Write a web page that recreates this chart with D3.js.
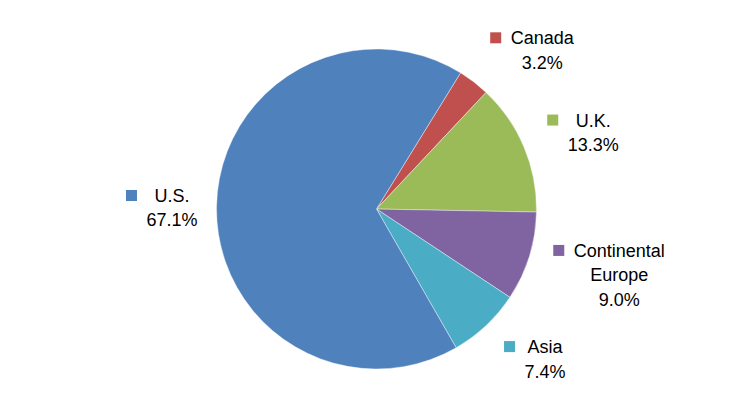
<!DOCTYPE html>
<html>
<head>
<meta charset="utf-8">
<script src="https://cdn.jsdelivr.net/npm/d3@7"></script>
<style>
  body { margin: 0; background: #fff; }
  svg { display: block; }
  .label text { font-family: "Liberation Sans", Arial, sans-serif; font-size: 18px; fill: #000; }
</style>
</head>
<body>
<svg id="chart"></svg>
<script>
// ======================
// DATA
// ======================
const regions = ["Canada", "U.K.", "Continental Europe", "Asia", "U.S."];
const labelLines = [["Canada"], ["U.K."], ["Continental", "Europe"], ["Asia"], ["U.S."]];
const shares = [3.2, 13.3, 9.0, 7.4, 67.1];
const colors = ["#C0504D", "#9BBB59", "#8064A2", "#4BACC6", "#4F81BD"];

// ======================
// SETUP
// ======================
const width = 752;
const height = 419;
const cx = 376.5;
const cy = 209;
const radius = 160;
const firstAngle = 31.7 * Math.PI / 180; // Canada slice starts here
const labelRadius = 182;
const labelOrigin = { x: 3, y: 4 }; // labels sit slightly low/right of the pie centre
const lineGap = 24.5;
const keySize = 11;
const keyGap = 9.5;

const svg = d3.select("#chart")
    .attr("width", width)
    .attr("height", height);

const g = svg.append("g")
    .attr("transform", `translate(${cx},${cy})`);

const color = d3.scaleOrdinal().domain(regions).range(colors);

const pie = d3.pie()
    .sort(null)
    .value(d => d.share)
    .startAngle(firstAngle)
    .endAngle(firstAngle + 2 * Math.PI);

const data = regions.map((r, i) => ({ region: r, lines: labelLines[i], share: shares[i] }));
const arcs = pie(data);

const arc = d3.arc().innerRadius(0).outerRadius(radius);

g.selectAll(".slice")
    .data(arcs)
    .enter()
    .append("path")
    .attr("class", "slice")
    .attr("d", arc)
    .attr("fill", d => color(d.data.region))
    .attr("stroke", "#fff")
    .attr("stroke-opacity", 0.5)
    .attr("stroke-width", 0.8);

// ======================
// LABELS (key + name + percent)
// ======================
const labels = g.selectAll(".label")
    .data(arcs)
    .enter()
    .append("g")
    .attr("class", "label");

labels.each(function(d) {
    const lg = d3.select(this);
    const lines = d.data.lines.concat([d3.format(".1f")(d.data.share) + "%"]);

    const texts = lg.selectAll("text")
        .data(lines)
        .enter()
        .append("text")
        .attr("text-anchor", "middle")
        .attr("x", 0)
        .attr("y", (t, i) => i * lineGap)
        .text(t => t);

    let w = 0;
    texts.each(function() { w = Math.max(w, this.getComputedTextLength()); });

    // legend key sits left of the text block, centred on the first line
    lg.append("rect")
        .attr("x", -w / 2 - keyGap - keySize)
        .attr("y", -6.5 - keySize / 2)
        .attr("width", keySize)
        .attr("height", keySize)
        .attr("fill", color(d.data.region));

    // box extents, used to push the label outside the pie
    const left = -w / 2 - keyGap - keySize;
    const right = w / 2;
    const top = -13;
    const bottom = (lines.length - 1) * lineGap + 4;
    const hw = (right - left) / 2;
    const hh = (bottom - top) / 2;

    const mid = (d.startAngle + d.endAngle) / 2;
    const s = Math.sin(mid), c = Math.cos(mid);
    const boxX = labelOrigin.x + labelRadius * s + hw * Math.sign(s);
    const boxY = labelOrigin.y - labelRadius * c - hh * c;

    lg.attr("transform",
        `translate(${boxX - (left + right) / 2},${boxY - (top + bottom) / 2})`);
});
</script>
</body>
</html>
